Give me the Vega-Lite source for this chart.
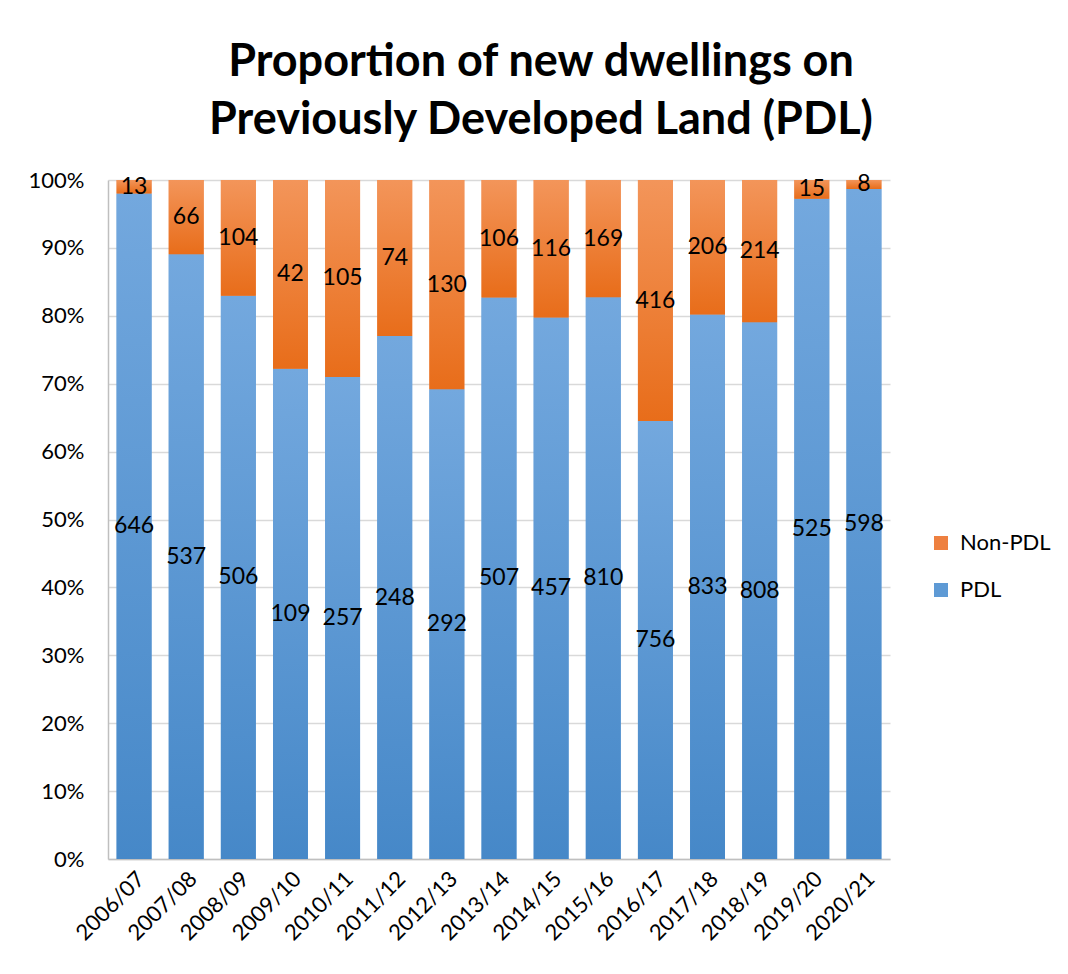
{
  "$schema": "https://vega.github.io/schema/vega-lite/v6.json",
  "width": 782,
  "height": 679,
  "autosize": {"type": "none"},
  "padding": {"left": 108, "top": 180, "right": 178, "bottom": 115},
  "background": "white",
  "title": {
    "text": ["Proportion of new dwellings on", "Previously Developed Land (PDL)"],
    "font": "Lato", "fontSize": 45, "fontWeight": "bold", "color": "#000000",
    "anchor": "middle", "dx": 42, "offset": 26, "lineHeight": 58
  },
  "data": {"values": [
    {"year": "2006/07", "type": "PDL", "count": 646}, {"year": "2006/07", "type": "Non-PDL", "count": 13},
    {"year": "2007/08", "type": "PDL", "count": 537}, {"year": "2007/08", "type": "Non-PDL", "count": 66},
    {"year": "2008/09", "type": "PDL", "count": 506}, {"year": "2008/09", "type": "Non-PDL", "count": 104},
    {"year": "2009/10", "type": "PDL", "count": 109}, {"year": "2009/10", "type": "Non-PDL", "count": 42},
    {"year": "2010/11", "type": "PDL", "count": 257}, {"year": "2010/11", "type": "Non-PDL", "count": 105},
    {"year": "2011/12", "type": "PDL", "count": 248}, {"year": "2011/12", "type": "Non-PDL", "count": 74},
    {"year": "2012/13", "type": "PDL", "count": 292}, {"year": "2012/13", "type": "Non-PDL", "count": 130},
    {"year": "2013/14", "type": "PDL", "count": 507}, {"year": "2013/14", "type": "Non-PDL", "count": 106},
    {"year": "2014/15", "type": "PDL", "count": 457}, {"year": "2014/15", "type": "Non-PDL", "count": 116},
    {"year": "2015/16", "type": "PDL", "count": 810}, {"year": "2015/16", "type": "Non-PDL", "count": 169},
    {"year": "2016/17", "type": "PDL", "count": 756}, {"year": "2016/17", "type": "Non-PDL", "count": 416},
    {"year": "2017/18", "type": "PDL", "count": 833}, {"year": "2017/18", "type": "Non-PDL", "count": 206},
    {"year": "2018/19", "type": "PDL", "count": 808}, {"year": "2018/19", "type": "Non-PDL", "count": 214},
    {"year": "2019/20", "type": "PDL", "count": 525}, {"year": "2019/20", "type": "Non-PDL", "count": 15},
    {"year": "2020/21", "type": "PDL", "count": 598}, {"year": "2020/21", "type": "Non-PDL", "count": 8}
  ]},
  "encoding": {
    "x": {
      "field": "year", "type": "nominal", "sort": null, "title": null,
      "scale": {"paddingInner": 0.33, "paddingOuter": 0.165},
      "axis": {
        "labelAngle": -45, "labelFont": "Lato", "labelFontSize": 22, "labelColor": "#000000",
        "labelPadding": 9, "ticks": false, "domainColor": "#bfbfbf", "domainWidth": 1.5, "grid": false
      }
    }
  },
  "layer": [
    {
      "mark": {"type": "bar"},
      "encoding": {
        "y": {
          "field": "count", "type": "quantitative", "stack": "normalize", "title": null,
          "scale": {"domain": [0, 1]},
          "axis": {
            "orient": "left", "format": "%", "values": [0, 0.1, 0.2, 0.3, 0.4, 0.5, 0.6, 0.7, 0.8, 0.9, 1],
            "labelFont": "Lato", "labelFontSize": 22, "labelColor": "#000000", "labelPadding": 24,
            "ticks": false, "domain": true, "domainColor": "#bfbfbf", "domainWidth": 1.5,
            "grid": true, "gridColor": "#d9d9d9", "gridWidth": 1.5
          }
        },
        "color": {
          "field": "type", "type": "nominal",
          "scale": {"domain": ["Non-PDL", "PDL"], "range": ["#ee8040", "#5e9ad5"]},
          "legend": {
            "title": null, "orient": "none", "legendX": 822, "legendY": 352,
            "symbolType": "square", "symbolSize": 196, "symbolStrokeWidth": 0,
            "labelFont": "Lato", "labelFontSize": 22, "labelColor": "#000000",
            "labelOffset": 8, "rowPadding": 25, "padding": 0
          }
        },
        "order": {"field": "type", "sort": "descending"}
      }
    },
    {
      "mark": {"type": "bar"},
      "encoding": {
        "y": {"field": "count", "type": "quantitative", "stack": "normalize"},
        "detail": {"field": "type", "type": "nominal"},
        "order": {"field": "type", "sort": "descending"},
        "color": {
          "condition": {
            "test": "datum.type === 'PDL'",
            "value": {"gradient": "linear", "x1": 0, "y1": 0, "x2": 0, "y2": 1,
              "stops": [{"offset": 0, "color": "#73a8de"}, {"offset": 1, "color": "#4688c8"}]}
          },
          "value": {"gradient": "linear", "x1": 0, "y1": 0, "x2": 0, "y2": 1,
            "stops": [{"offset": 0, "color": "#f3955a"}, {"offset": 1, "color": "#e86d1a"}]}
        }
      }
    },
    {
      "mark": {"type": "text", "font": "Lato", "fontSize": 23, "color": "#000000", "baseline": "middle"},
      "encoding": {
        "y": {"field": "count", "type": "quantitative", "stack": "normalize", "bandPosition": 0.5},
        "detail": {"field": "type", "type": "nominal"},
        "order": {"field": "type", "sort": "descending"},
        "text": {"field": "count", "type": "quantitative"}
      }
    }
  ],
  "config": {
    "view": {"stroke": null},
    "axisX": {"grid": false},
    "axisY": {"domain": false, "grid": false, "ticks": false}
  }
}
